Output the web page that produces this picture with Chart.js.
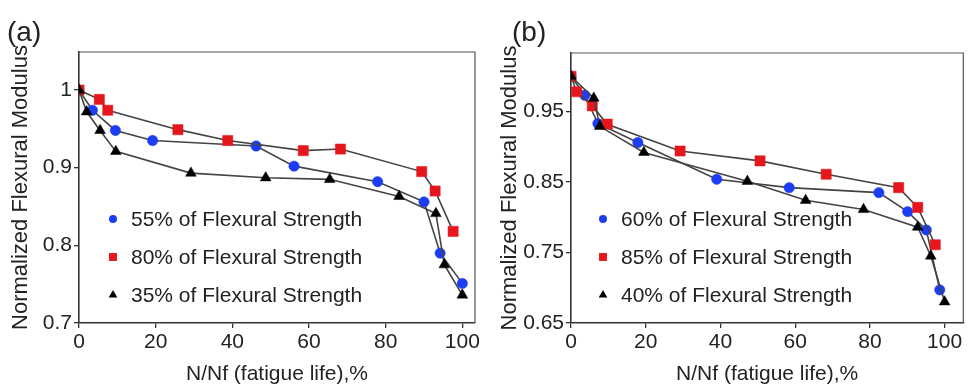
<!DOCTYPE html>
<html>
<head>
<meta charset="utf-8">
<script src="https://cdn.jsdelivr.net/npm/chart.js@4.4.1/dist/chart.umd.min.js"></script>
<style>
  html, body { margin: 0; padding: 0; background: #fff; }
  #wrap { position: relative; width: 971px; height: 386px; overflow: hidden; }
  .panel { position: absolute; top: 0; height: 386px; }
  #panelA { left: 0; width: 486px; }
  #panelB { left: 486px; width: 485px; }
</style>
</head>
<body>
<div id="wrap">
  <div class="panel" id="panelA"><canvas id="chartA"></canvas></div>
  <div class="panel" id="panelB"><canvas id="chartB"></canvas></div>
</div>
<script>
/* DATA - panel (a) */
const lifeA55 = [0, 3.5, 9.5, 19.2, 46.2, 56.1, 77.9, 90.0, 94.2, 100];
const modA55  = [1.0, 0.974, 0.948, 0.935, 0.928, 0.902, 0.882, 0.856, 0.790, 0.751];
const lifeA80 = [0, 5.3, 7.5, 25.8, 38.8, 58.5, 68.2, 89.4, 92.9, 97.6];
const modA80  = [1.0, 0.988, 0.974, 0.949, 0.935, 0.922, 0.924, 0.895, 0.870, 0.818];
const lifeA35 = [0, 2.0, 5.5, 9.6, 29.2, 48.7, 65.4, 83.5, 93.1, 95.3, 100];
const modA35  = [1.0, 0.972, 0.948, 0.921, 0.893, 0.887, 0.885, 0.863, 0.841, 0.775, 0.736];
const namesA  = ["55% of Flexural Strength", "80% of Flexural Strength", "35% of Flexural Strength"];
const yTicksA = [0.7, 0.8, 0.9, 1];
const yLabelsA = ["0.7", "0.8", "0.9", "1"];

/* DATA - panel (b) */
const lifeB60 = [0, 3.7, 7.2, 17.9, 39.0, 58.4, 82.4, 90.1, 95.1, 98.7];
const modB60  = [1.0, 0.973, 0.933, 0.906, 0.854, 0.842, 0.835, 0.808, 0.782, 0.697];
const lifeB85 = [0, 1.5, 5.7, 9.7, 29.2, 50.6, 68.3, 87.7, 92.8, 97.5];
const modB85  = [1.0, 0.978, 0.958, 0.932, 0.894, 0.880, 0.861, 0.842, 0.814, 0.761];
const lifeB40 = [0, 6.1, 7.7, 19.5, 47.2, 62.8, 78.3, 92.8, 96.3, 100];
const modB40  = [1.0, 0.969, 0.929, 0.892, 0.851, 0.824, 0.811, 0.786, 0.745, 0.680];
const namesB  = ["60% of Flexural Strength", "85% of Flexural Strength", "40% of Flexural Strength"];
const yTicksB = [0.65, 0.75, 0.85, 0.95];
const yLabelsB = ["0.65", "0.75", "0.85", "0.95"];

const xTicks = [0, 20, 40, 60, 80, 100];
const xLabels = ["0", "20", "40", "60", "80", "100"];

/* STYLE */
const FONT = "'Liberation Sans', Arial, sans-serif";
const INK = "#222";
const BLUE = "#1d3df2";
const RED = "#e5171d";
const BLACK = "#000";
const LINE = "#444";

// order: triangles end up on top, then squares, then circles
const markers = [
  { style: "circle", color: BLUE, radius: 5.2, legendRadius: 4, order: 2 },
  { style: "rect", color: RED, radius: 7.2, legendRadius: 5.6, order: 1 },
  { style: "triangle", color: BLACK, radius: 6.2, legendRadius: 5, order: 0 }
];

function toPoints(xs, ys) {
  return xs.map((x, i) => ({ x, y: ys[i] }));
}

function makeDataset(xs, ys, name, m) {
  return {
    label: name,
    data: toPoints(xs, ys),
    order: m.order,
    showLine: true,
    borderColor: LINE,
    borderWidth: 1.6,
    pointStyle: m.style,
    pointRadius: m.radius,
    pointHoverRadius: m.radius,
    pointBackgroundColor: m.color,
    pointBorderColor: m.color,
    pointBorderWidth: 0.5
  };
}

function drawMarker(ctx, style, r, x, y, color) {
  ctx.save();
  ctx.fillStyle = color;
  ctx.beginPath();
  if (style === "circle") {
    ctx.arc(x, y, r, 0, Math.PI * 2);
  } else if (style === "rect") {
    const s = r * Math.SQRT1_2;
    ctx.rect(x - s, y - s, 2 * s, 2 * s);
  } else {
    const h = r * 1.5, w = r * Math.sqrt(3) / 2;
    ctx.moveTo(x, y - r);
    ctx.lineTo(x + w, y + h - r);
    ctx.lineTo(x - w, y + h - r);
    ctx.closePath();
  }
  ctx.fill();
  ctx.restore();
}

/* frame, panel letter and in-plot legend */
const panelDecor = {
  id: "panelDecor",
  afterDraw(chart, args, opts) {
    const { ctx, chartArea: a } = chart;
    ctx.save();
    ctx.strokeStyle = "#555";
    ctx.lineWidth = 1.2;
    ctx.beginPath();
    ctx.moveTo(a.left, a.top);
    ctx.lineTo(a.right, a.top);
    ctx.lineTo(a.right, a.bottom);
    ctx.stroke();

    ctx.fillStyle = INK;
    ctx.textBaseline = "middle";
    ctx.textAlign = "left";
    ctx.font = "28px " + FONT;
    ctx.fillText(opts.letter, opts.letterX, opts.letterY);

    ctx.font = "21px " + FONT;
    chart.data.datasets.forEach((ds, i) => {
      const y = a.top + opts.legendTop + i * opts.legendGap;
      const m = markers[i];
      drawMarker(ctx, m.style, m.legendRadius, a.left + opts.legendX, y, m.color);
      ctx.fillStyle = INK;
      ctx.fillText(ds.label, a.left + opts.legendX + 18, y + 1);
    });
    ctx.restore();
  }
};

function makeChart(id, datasets, cfg) {
  return new Chart(document.getElementById(id), {
    type: "scatter",
    data: { datasets },
    plugins: [panelDecor],
    options: {
      responsive: true,
      maintainAspectRatio: false,
      animation: false,
      layout: { padding: { top: cfg.top, right: cfg.right, left: 0, bottom: 0 } },
      plugins: {
        legend: { display: false },
        tooltip: { enabled: false },
        panelDecor: cfg.decor
      },
      scales: {
        x: {
          type: "linear",
          min: 0,
          max: cfg.xMax,
          afterBuildTicks: s => { s.ticks = xTicks.map(v => ({ value: v })); },
          afterFit: s => { s.height = 386 - 323; },
          grid: { display: true, drawOnChartArea: false, drawTicks: true, tickLength: 5, color: "#333", lineWidth: 1.3 },
          border: { display: true, color: "#333", width: 1.6 },
          ticks: {
            color: INK,
            padding: 2,
            maxRotation: 0,
            font: { family: FONT, size: 21 },
            callback: (v, i) => xLabels[i]
          },
          title: {
            display: true,
            text: "N/Nf (fatigue life),%",
            color: INK,
            font: { family: FONT, size: 21, lineHeight: 1 },
            padding: { top: 0, bottom: 1 }
          }
        },
        y: {
          type: "linear",
          min: cfg.yMin,
          max: cfg.yMax,
          afterBuildTicks: s => { s.ticks = cfg.yTicks.map(v => ({ value: v })); },
          afterFit: s => { s.width = cfg.left; },
          grid: { display: true, drawOnChartArea: false, drawTicks: true, tickLength: 5, color: "#333", lineWidth: 1.3 },
          border: { display: true, color: "#333", width: 1.6 },
          ticks: {
            color: INK,
            padding: 2,
            font: { family: FONT, size: 21 },
            callback: (v, i) => cfg.yLabels[i]
          },
          title: {
            display: true,
            text: "Normalized Flexural Modulus",
            color: INK,
            font: { family: FONT, size: 22, lineHeight: 1 },
            padding: { top: cfg.titlePad, bottom: 0 }
          }
        }
      }
    }
  });
}

/* PANEL (a) */
makeChart("chartA", [
  makeDataset(lifeA55, modA55, namesA[0], markers[0]),
  makeDataset(lifeA80, modA80, namesA[1], markers[1]),
  makeDataset(lifeA35, modA35, namesA[2], markers[2])
], {
  top: 52, right: 11, left: 79, xMax: 103.3,
  yMin: 0.7, yMax: 1.049, yTicks: yTicksA, yLabels: yLabelsA, titlePad: 10,
  decor: { letter: "(a)", letterX: 7, letterY: 33, legendX: 34, legendTop: 167, legendGap: 38 }
});

/* PANEL (b) */
makeChart("chartB", [
  makeDataset(lifeB60, modB60, namesB[0], markers[0]),
  makeDataset(lifeB85, modB85, namesB[1], markers[1]),
  makeDataset(lifeB40, modB40, namesB[2], markers[2])
], {
  top: 53, right: 2, left: 85, xMax: 105,
  yMin: 0.65, yMax: 1.033, yTicks: yTicksB, yLabels: yLabelsB, titlePad: 13,
  decor: { letter: "(b)", letterX: 26, letterY: 33, legendX: 32, legendTop: 166, legendGap: 38 }
});
</script>
</body>
</html>
